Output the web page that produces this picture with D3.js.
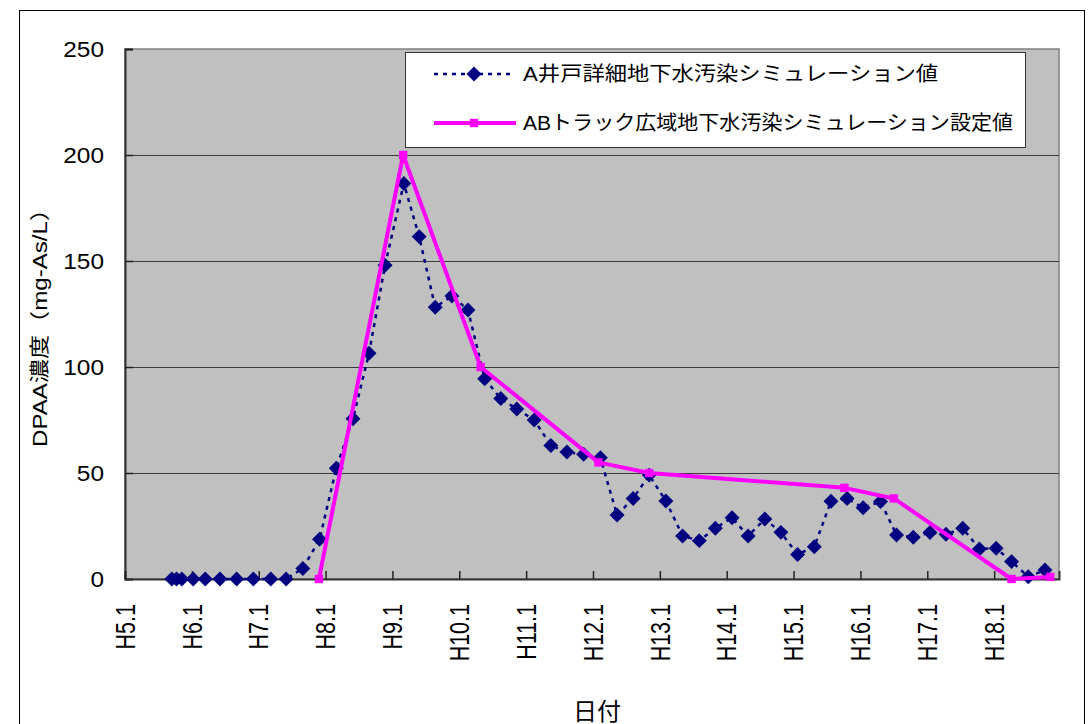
<!DOCTYPE html>
<html><head><meta charset="utf-8">
<script src="https://cdn.jsdelivr.net/npm/d3@7"></script>
<style>
html,body{margin:0;padding:0;background:#fff;}
svg{display:block;}
text{font-family:"Liberation Sans",Arial,"Noto Sans CJK JP",sans-serif;fill:#000;}
</style></head>
<body>
<svg id="chart" width="1090" height="724"></svg>
<script>
// ---- data ----
const xTickValues = [5,6,7,8,9,10,11,12,13,14,15,16,17,18];
const xTickLabels = ["H5.1","H6.1","H7.1","H8.1","H9.1","H10.1","H11.1","H12.1","H13.1","H14.1","H15.1","H16.1","H17.1","H18.1"];
const yTickValues = [0,50,100,150,200,250];
const yTickLabels = ["0","50","100","150","200","250"];

const seriesAName = "A井戸詳細地下水汚染シミュレーション値";
const aYears = [5.70,5.77,5.85,6.02,6.20,6.42,6.67,6.92,7.18,7.41,7.66,7.91,8.16,8.41,8.65,8.89,9.17,9.40,9.64,9.89,10.13,10.38,10.62,10.86,11.12,11.37,11.61,11.86,12.11,12.36,12.60,12.84,13.09,13.34,13.59,13.83,14.08,14.32,14.57,14.81,15.06,15.31,15.56,15.80,16.04,16.30,16.54,16.79,17.04,17.28,17.53,17.78,18.03,18.26,18.51,18.76];
const aValues = [0,0,0,0,0,0,0,0,0,0,5,18.7,52.2,75.6,106.5,148,186.6,161.5,128.2,133.5,126.9,94.5,85.1,80.2,75,63,59.9,58.8,57.2,30.2,38,49,36.8,20.3,18.1,23.9,28.9,20.3,28.3,22,11.6,15.2,36.7,38,33.6,36.5,20.8,19.7,21.9,21.1,23.9,14.2,14.5,8.2,1.1,4.2];

const seriesBName = "ABトラック広域地下水汚染シミュレーション設定値";
const bYears = [7.90,9.16,10.32,12.08,12.84,15.76,16.50,18.26,18.84];
const bValues = [0,200,100,55,50,43,38,0,1];

const yTitle = "DPAA濃度（mg-As/L）";
const xTitle = "日付";

// ---- layout ----
const svg = d3.select("#chart");
const L = 125, R = 1059, T = 49, B = 579;
const x = d3.scaleLinear().domain([5, 18.97]).range([L, R]);
const y = d3.scaleLinear().domain([0, 250]).range([B, T]);

// outer frame
svg.append("rect").attr("x",19.5).attr("y",10.5).attr("width",1065).attr("height",800)
  .attr("fill","#fff").attr("stroke","#000").attr("stroke-width",1);

// plot background
svg.append("rect").attr("x",L).attr("y",T).attr("width",R-L).attr("height",B-T)
  .attr("fill","#C0C0C0").attr("stroke","#808080").attr("stroke-width",1.5);

// gridlines
svg.append("g").selectAll("line").data(yTickValues.filter(v=>v>0 && v<250)).join("line")
  .attr("x1",L).attr("x2",R).attr("y1",d=>Math.round(y(d))+0.5).attr("y2",d=>Math.round(y(d))+0.5)
  .attr("stroke","#3a3a3a").attr("stroke-width",1);

// axes (ticks inside)
const yAxis = d3.axisLeft(y).tickValues(yTickValues).tickSize(-8).tickFormat("");
const gy = svg.append("g").attr("transform",`translate(${L},0)`).call(yAxis);
gy.select(".domain").attr("stroke","#333").attr("stroke-width",2);
gy.selectAll(".tick line").attr("stroke","#222").attr("stroke-width",1.5);

const xAxis = d3.axisBottom(x).tickValues(xTickValues).tickSize(-8).tickFormat("");
const gx = svg.append("g").attr("transform",`translate(0,${B})`).call(xAxis);
gx.select(".domain").attr("stroke","#333").attr("stroke-width",2);
gx.selectAll(".tick line").attr("stroke","#222").attr("stroke-width",1.5);

// y tick labels
svg.append("g").selectAll("text").data(yTickValues).join("text")
  .attr("transform",d=>`translate(104,${y(d)}) scale(1.11,1)`)
  .attr("text-anchor","end").attr("dy","0.36em").attr("font-size",22)
  .text((d,i)=>yTickLabels[i]);

// x tick labels (rotated)
svg.append("g").selectAll("text").data(xTickValues).join("text")
  .attr("transform",d=>`translate(${x(d)},604) scale(1.25,1) rotate(-90)`)
  .attr("text-anchor","end").attr("dy","0.36em").attr("font-size",21.5)
  .text((d,i)=>xTickLabels[i]);

// axis titles
svg.append("text").attr("transform","translate(40,322) rotate(-90)")
  .attr("text-anchor","middle").attr("dy","0.36em").attr("font-size",20)
  .attr("textLength",250).attr("lengthAdjust","spacingAndGlyphs").text(yTitle);
svg.append("text").attr("x",597).attr("y",720).attr("text-anchor","middle")
  .attr("font-size",24).text(xTitle);

// series A : dotted navy line with diamonds
const aData = aYears.map((t,i)=>({t, v:aValues[i]}));
const line = d3.line().x(d=>x(d.t)).y(d=>y(d.v));
svg.append("path").datum(aData).attr("d",line).attr("fill","none")
  .attr("stroke","#000080").attr("stroke-width",2.5).attr("stroke-dasharray","4,5");
const diamond = d3.symbol().type(d3.symbolSquare).size(112);
svg.append("g").selectAll("path").data(aData).join("path")
  .attr("d",diamond()).attr("fill","#000080")
  .attr("transform",d=>`translate(${x(d.t)},${y(d.v)}) rotate(45)`);

// series B : magenta line with squares
const bData = bYears.map((t,i)=>({t, v:bValues[i]}));
svg.append("path").datum(bData).attr("d",line).attr("fill","none")
  .attr("stroke","#FF00FF").attr("stroke-width",4).attr("stroke-linejoin","round");
const square = d3.symbol().type(d3.symbolSquare).size(70);
svg.append("g").selectAll("path").data(bData).join("path")
  .attr("d",square()).attr("fill","#FF00FF")
  .attr("transform",d=>`translate(${x(d.t)},${y(d.v)})`);

// legend
const lg = svg.append("g");
lg.append("rect").attr("x",405.5).attr("y",52.5).attr("width",620).attr("height",95)
  .attr("fill","#fff").attr("stroke","#333").attr("stroke-width",1);
lg.append("line").attr("x1",434).attr("x2",514).attr("y1",74).attr("y2",74)
  .attr("stroke","#000080").attr("stroke-width",2.5).attr("stroke-dasharray","4,5");
lg.append("path").attr("d",diamond()).attr("fill","#000080").attr("transform","translate(474,74) rotate(45)");
lg.append("text").attr("x",523).attr("y",81).attr("font-size",20)
  .attr("textLength",415).attr("lengthAdjust","spacingAndGlyphs").text(seriesAName);
lg.append("line").attr("x1",434).attr("x2",516).attr("y1",123).attr("y2",123)
  .attr("stroke","#FF00FF").attr("stroke-width",4);
lg.append("path").attr("d",square()).attr("fill","#FF00FF").attr("transform","translate(474,123)");
lg.append("text").attr("x",523).attr("y",130).attr("font-size",20)
  .attr("textLength",490).attr("lengthAdjust","spacingAndGlyphs").text(seriesBName);
</script>
</body></html>
